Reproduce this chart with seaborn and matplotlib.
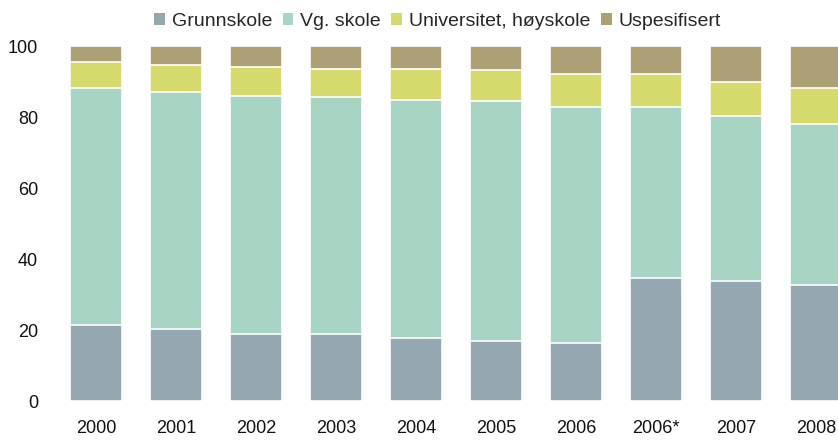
import pandas as pd
import seaborn as sns
import matplotlib.pyplot as plt
from matplotlib.patches import Patch

years = ["2000", "2001", "2002", "2003", "2004", "2005", "2006", "2006*", "2007", "2008"]
grunnskole = [21.4, 20.3, 18.9, 18.9, 17.7, 16.9, 16.3, 34.6, 33.8, 32.6]
vg_skole = [66.8, 66.7, 67.0, 66.7, 67.1, 67.6, 66.4, 48.1, 46.4, 45.4]
universitet = [7.3, 7.6, 8.2, 7.9, 8.7, 8.7, 9.4, 9.3, 9.6, 10.1]
uspesifisert = [4.5, 5.4, 5.9, 6.5, 6.5, 6.8, 7.9, 8.0, 10.2, 11.9]

series = ["Grunnskole", "Vg. skole", "Universitet, høyskole", "Uspesifisert"]
colors = ["#95a8b2", "#a8d4c4", "#d4db6c", "#ada074"]

df = pd.DataFrame({"year": years, "Grunnskole": grunnskole, "Vg. skole": vg_skole,
                   "Universitet, høyskole": universitet, "Uspesifisert": uspesifisert})
cum = df[series].cumsum(axis=1)

sns.set_style("white")
plt.rcParams['font.family'] = ['Liberation Sans', 'DejaVu Sans']

fig = plt.figure(figsize=(8.38, 4.4), dpi=100)
ax = fig.add_axes([56 / 838, 1 - 401 / 440, 1 - 56 / 838, (401 - 46) / 440])

# draw cumulative totals from the top down so each layer covers the one above
for name, col in zip(reversed(series), reversed(colors)):
    sns.barplot(x=df["year"], y=cum[name], color=col, width=0.65,
                edgecolor="white", linewidth=1.2, ax=ax, saturation=1)

ax.set_xlim(-0.5, 9.275)
ax.set_ylim(0, 100)
ax.set_yticks(range(0, 101, 20))
ax.set_xlabel("")
ax.set_ylabel("")
ax.tick_params(axis="both", length=0, labelsize=13, colors="#111111")
ax.tick_params(axis="x", pad=14)
ax.tick_params(axis="y", pad=13)
sns.despine(ax=ax, left=True, bottom=True)

handles = [Patch(facecolor=c, edgecolor="none") for c in colors]
fig.legend(handles, series, loc="upper center", bbox_to_anchor=(0.522, 1.01), ncol=4,
           frameon=False, fontsize=14, handlelength=0.55, handleheight=0.55,
           handletextpad=0.35, columnspacing=0.55)

fig.savefig("out.png", dpi=100)
